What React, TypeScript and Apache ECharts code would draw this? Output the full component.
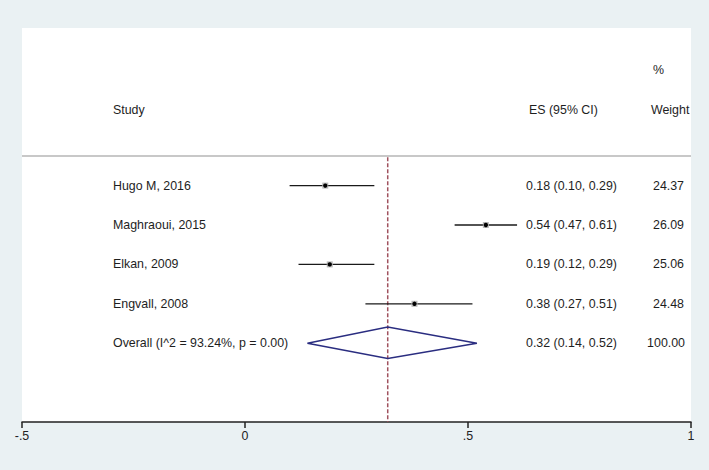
import React, { useEffect, useRef } from "react";
import * as echarts from "echarts";

const studies = ["Hugo M, 2016", "Maghraoui, 2015", "Elkan, 2009", "Engvall, 2008"];
const esValues = [0.18, 0.54, 0.19, 0.38];
const loValues = [0.1, 0.47, 0.12, 0.27];
const hiValues = [0.29, 0.61, 0.29, 0.51];
const weights = [24.37, 26.09, 25.06, 24.48];

const overallLabel = "Overall (I^2 = 93.24%, p = 0.00)";
const overallES = 0.32;
const overallLo = 0.14;
const overallHi = 0.52;
const overallWeight = 100.0;

const tickValues = [-0.5, 0, 0.5, 1];
const tickLabels = ["-.5", "0", ".5", "1"];

const FONT = '12.4px "Liberation Sans", Arial, Helvetica, sans-serif';
const TEXT_COLOR = "#1e1e1e";
const COL_STUDY = 113;
const COL_ES = 526;
const COL_W_RIGHT = 684;
const COL_W_LEFT = 651;

export default function App() {
  const ref = useRef<HTMLDivElement>(null);
  useEffect(() => {
    document.body.style.margin = "0";
    const chart = echarts.init(ref.current!, null, { renderer: "svg" });
    const overallRow = studies.length;
    const fmt = (e: number, l: number, h: number) =>
      `${e.toFixed(2)} (${l.toFixed(2)}, ${h.toFixed(2)})`;

    const txt = (text: string, x: number, y: number, align = "left") => ({
      type: "text",
      x,
      y,
      style: { text, fill: TEXT_COLOR, font: FONT, align, verticalAlign: "middle" },
    });

    chart.setOption({
      animation: false,
      backgroundColor: "#eaf1f3",
      grid: {
        left: 22,
        right: 18,
        top: 28,
        bottom: 48,
        show: true,
        backgroundColor: "#ffffff",
        borderWidth: 0,
      },
      xAxis: {
        type: "value",
        min: -0.5,
        max: 1,
        interval: 0.5,
        splitLine: { show: false },
        axisLine: { show: true, onZero: false, lineStyle: { color: "#222", width: 1.5 } },
        axisTick: { show: true, inside: false, length: 6, lineStyle: { color: "#222", width: 1.5 } },
        axisLabel: {
          margin: 8,
          color: "#222",
          fontSize: 12.4,
          fontFamily: '"Liberation Sans", Arial, sans-serif',
          formatter: (v: number) => {
            const idx = tickValues.findIndex((t) => Math.abs(t - v) < 1e-9);
            return idx >= 0 ? tickLabels[idx] : "";
          },
        },
      },
      yAxis: { type: "value", show: false, inverse: true, min: -4, max: 6 },
      series: [
        {
          type: "custom",
          data: [[0]],
          z: 1,
          renderItem: (params: any, api: any) => {
            const yPct = api.coord([0, -2.93])[1];
            const yHead = api.coord([0, -1.92])[1];
            const yLine = api.coord([0, -0.75])[1];
            const xL = api.coord([-0.5, 0])[0];
            const xR = api.coord([1, 0])[0];
            return {
              type: "group",
              children: [
                txt("%", 653, yPct),
                txt("Study", COL_STUDY, yHead),
                txt("ES (95% CI)", COL_ES + 3, yHead),
                txt("Weight", COL_W_LEFT, yHead),
                {
                  type: "line",
                  shape: { x1: xL, y1: yLine, x2: xR, y2: yLine },
                  style: { stroke: "#c8c8c8", lineWidth: 2 },
                },
              ],
            };
          },
        },
        {
          type: "custom",
          data: [[overallES]],
          z: 2,
          renderItem: (params: any, api: any) => {
            const top = api.coord([overallES, -0.72]);
            const bottom = api.coord([overallES, 6]);
            return {
              type: "line",
              shape: { x1: top[0], y1: top[1], x2: bottom[0], y2: bottom[1] },
              style: { stroke: "#a0525e", lineWidth: 1.5, lineDash: [4, 2] },
            };
          },
        },
        {
          type: "custom",
          z: 3,
          data: studies.map((s, i) => [esValues[i], loValues[i], hiValues[i], i]),
          renderItem: (params: any, api: any) => {
            const i = params.dataIndex;
            const row = api.value(3);
            const c = api.coord([api.value(0), row]);
            const l = api.coord([api.value(1), row]);
            const h = api.coord([api.value(2), row]);
            return {
              type: "group",
              children: [
                {
                  type: "line",
                  shape: { x1: l[0], y1: c[1], x2: h[0], y2: c[1] },
                  style: { stroke: "#1a1a1a", lineWidth: 1.3 },
                },
                {
                  type: "rect",
                  shape: { x: c[0] - 3, y: c[1] - 3, width: 6, height: 6 },
                  style: { fill: "#b8b8b8" },
                },
                {
                  type: "circle",
                  shape: { cx: c[0], cy: c[1], r: 2.2 },
                  style: { fill: "#000" },
                },
                txt(studies[i], COL_STUDY, c[1]),
                txt(fmt(esValues[i], loValues[i], hiValues[i]), COL_ES, c[1]),
                txt(weights[i].toFixed(2), COL_W_RIGHT, c[1], "right"),
              ],
            };
          },
        },
        {
          type: "custom",
          z: 4,
          data: [[overallES, overallLo, overallHi, overallRow]],
          renderItem: (params: any, api: any) => {
            const row = api.value(3);
            const c = api.coord([api.value(0), row]);
            const l = api.coord([api.value(1), row]);
            const h = api.coord([api.value(2), row]);
            const t = api.coord([api.value(0), row - 0.41]);
            const b = api.coord([api.value(0), row + 0.39]);
            return {
              type: "group",
              children: [
                {
                  type: "polygon",
                  shape: { points: [[l[0], c[1]], [t[0], t[1]], [h[0], c[1]], [b[0], b[1]]] },
                  style: { fill: "none", stroke: "#2a2d80", lineWidth: 1.5 },
                },
                txt(overallLabel, COL_STUDY, c[1]),
                txt(fmt(overallES, overallLo, overallHi), COL_ES, c[1]),
                txt(overallWeight.toFixed(2), COL_W_RIGHT + 1, c[1], "right"),
              ],
            };
          },
        },
      ],
    });
    return () => chart.dispose();
  }, []);
  return <div ref={ref} style={{ width: 709, height: 470 }} />;
}
